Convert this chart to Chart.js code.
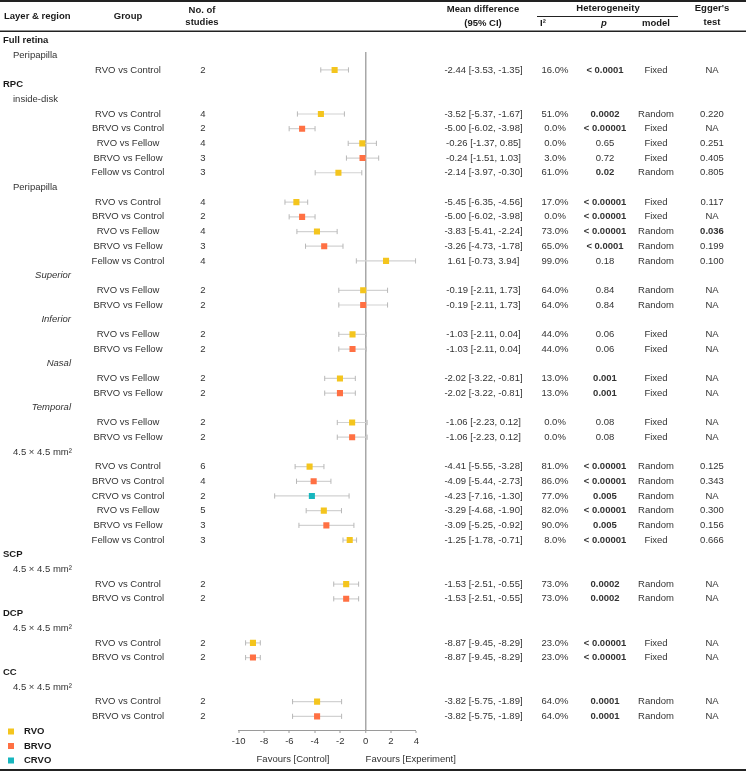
<!DOCTYPE html>
<html>
<head>
<meta charset="utf-8">
<script src="https://cdn.jsdelivr.net/npm/chart.js@4.4.1/dist/chart.umd.min.js"></script>
<style>
html,body{margin:0;padding:0;background:#fff;}
#wrap{position:relative;width:746px;height:771px;}
</style>
</head>
<body>
<div id="wrap"><canvas id="c"></canvas></div>
<script>
// ---- Row structure (L = layer, R = region, S = sub-region, D = data row) ----
const rowKind = ['L','R','D','L','R','D','D','D','D','D','R','D','D','D','D','D','S','D','D','S','D','D','S','D','D','S','D','D','R','D','D','D','D','D','D','L','R','D','D','L','R','D','D','L','R','D','D'];
const headingText = ['Full retina','Peripapilla','RPC','inside-disk','Peripapilla','Superior','Inferior','Nasal','Temporal','4.5 × 4.5 mm²','SCP','4.5 × 4.5 mm²','DCP','4.5 × 4.5 mm²','CC','4.5 × 4.5 mm²'];

// ---- Data rows ----
const groups = ['RVO vs Control',
 'RVO vs Control','BRVO vs Control','RVO vs Fellow','BRVO vs Fellow','Fellow vs Control',
 'RVO vs Control','BRVO vs Control','RVO vs Fellow','BRVO vs Fellow','Fellow vs Control',
 'RVO vs Fellow','BRVO vs Fellow',
 'RVO vs Fellow','BRVO vs Fellow',
 'RVO vs Fellow','BRVO vs Fellow',
 'RVO vs Fellow','BRVO vs Fellow',
 'RVO vs Control','BRVO vs Control','CRVO vs Control','RVO vs Fellow','BRVO vs Fellow','Fellow vs Control',
 'RVO vs Control','BRVO vs Control',
 'RVO vs Control','BRVO vs Control',
 'RVO vs Control','BRVO vs Control'];
const studies = [2, 4,2,4,3,3, 4,2,4,3,4, 2,2, 2,2, 2,2, 2,2, 6,4,2,5,3,3, 2,2, 2,2, 2,2];
const meanDiff = [-2.44, -3.52,-5.00,-0.26,-0.24,-2.14, -5.45,-5.00,-3.83,-3.26,1.61, -0.19,-0.19, -1.03,-1.03, -2.02,-2.02, -1.06,-1.06, -4.41,-4.09,-4.23,-3.29,-3.09,-1.25, -1.53,-1.53, -8.87,-8.87, -3.82,-3.82];
const ciLow = [-3.53, -5.37,-6.02,-1.37,-1.51,-3.97, -6.35,-6.02,-5.41,-4.73,-0.73, -2.11,-2.11, -2.11,-2.11, -3.22,-3.22, -2.23,-2.23, -5.55,-5.44,-7.16,-4.68,-5.25,-1.78, -2.51,-2.51, -9.45,-9.45, -5.75,-5.75];
const ciHigh = [-1.35, -1.67,-3.98,0.85,1.03,-0.30, -4.56,-3.98,-2.24,-1.78,3.94, 1.73,1.73, 0.04,0.04, -0.81,-0.81, 0.12,0.12, -3.28,-2.73,-1.30,-1.90,-0.92,-0.71, -0.55,-0.55, -8.29,-8.29, -1.89,-1.89];
const iSquared = [16.0, 51.0,0.0,0.0,3.0,61.0, 17.0,0.0,73.0,65.0,99.0, 64.0,64.0, 44.0,44.0, 13.0,13.0, 0.0,0.0, 81.0,86.0,77.0,82.0,90.0,8.0, 73.0,73.0, 23.0,23.0, 64.0,64.0];
const pText = ['< 0.0001', '0.0002','< 0.00001','0.65','0.72','0.02', '< 0.00001','< 0.00001','< 0.00001','< 0.0001','0.18', '0.84','0.84', '0.06','0.06', '0.001','0.001', '0.08','0.08', '< 0.00001','< 0.00001','0.005','< 0.00001','0.005','< 0.00001', '0.0002','0.0002', '< 0.00001','< 0.00001', '0.0001','0.0001'];
const models = ['Fixed', 'Random','Fixed','Fixed','Fixed','Random', 'Fixed','Fixed','Random','Random','Random', 'Random','Random', 'Fixed','Fixed', 'Fixed','Fixed', 'Fixed','Fixed', 'Random','Random','Random','Random','Random','Fixed', 'Random','Random', 'Fixed','Fixed', 'Random','Random'];
const egger = ['NA', '0.220','NA','0.251','0.405','0.805', '0.117','NA','0.036','0.199','0.100', 'NA','NA', 'NA','NA', 'NA','NA', 'NA','NA', '0.125','0.343','NA','0.300','0.156','0.666', 'NA','NA', 'NA','NA', 'NA','NA'];
const xTicks = [-10,-8,-6,-4,-2,0,2,4];
const legendNames = ['RVO','BRVO','CRVO'];
const colors = {RVO:'#F4C51E', BRVO:'#FF7043', CRVO:'#17B6BE'};

// ---- derive row indices ----
const dataRow = []; const headRow = [];
rowKind.forEach((k,i)=>{ if(k==='D') dataRow.push(i); else headRow.push(i); });
const typeOf = g => g.startsWith('BRVO') ? 'BRVO' : (g.startsWith('CRVO') ? 'CRVO' : 'RVO');

const ciData = [], capData = [];
const markerData = {RVO:[], BRVO:[], CRVO:[]};
groups.forEach((g,i)=>{
  const r = dataRow[i];
  ciData.push({x:ciLow[i],y:r},{x:ciHigh[i],y:r},{x:null,y:null});
  capData.push({x:ciLow[i],y:r},{x:ciHigh[i],y:r});
  markerData[typeOf(g)].push({x:meanDiff[i],y:r});
});

const FONT = '"Liberation Sans", Arial, sans-serif';
const FS = 9.5;
const TXT = '#333';

const tablePlugin = {
  id:'table',
  afterDraw(chart){
    const ctx = chart.ctx, ys = chart.scales.y, xs = chart.scales.x;
    ctx.save();
    ctx.textBaseline = 'middle';
    const t = (s,x,y,align,weight,style,color)=>{
      ctx.font = (style||'') + ' ' + (weight||'') + ' ' + FS + 'px ' + FONT;
      ctx.textAlign = align||'left';
      ctx.fillStyle = color||TXT;
      ctx.fillText(s,x,y);
    };
    // rules
    ctx.strokeStyle = '#222';
    ctx.lineWidth = 2; ctx.beginPath(); ctx.moveTo(0,1); ctx.lineTo(746,1); ctx.stroke();
    ctx.lineWidth = 1.5; ctx.beginPath(); ctx.moveTo(0,31.3); ctx.lineTo(746,31.3); ctx.stroke();
    ctx.lineWidth = 1; ctx.beginPath(); ctx.moveTo(537,16.5); ctx.lineTo(678,16.5); ctx.stroke();
    ctx.lineWidth = 2; ctx.beginPath(); ctx.moveTo(0,770); ctx.lineTo(746,770); ctx.stroke();
    // header
    const H = '#1a1a1a';
    t('Layer & region',4,16,'left','bold','',H);
    t('Group',128,16,'center','bold','',H);
    t('No. of',202,10,'center','bold','',H);
    t('studies',202,22.7,'center','bold','',H);
    t('Mean difference',483,9.5,'center','bold','',H);
    t('(95% CI)',483,23.3,'center','bold','',H);
    t('Heterogeneity',608,8.3,'center','bold','',H);
    t('I²',543,23.3,'center','bold','',H);
    t('p',604,23.8,'center','bold','italic',H);
    t('model',656,23.3,'center','bold','',H);
    t("Egger's",712,8.5,'center','bold','',H);
    t('test',712,22.7,'center','bold','',H);
    // headings
    headRow.forEach((r,j)=>{
      const y = ys.getPixelForValue(r), k = rowKind[r], s = headingText[j];
      if(k==='L') t(s,3,y,'left','bold','','#1a1a1a');
      else if(k==='R') t(s,13,y,'left');
      else t(s,71,y,'right','','italic');
    });
    // data rows
    groups.forEach((g,i)=>{
      const y = ys.getPixelForValue(dataRow[i]);
      t(g,128,y,'center');
      t(String(studies[i]),203,y,'center');
      t(meanDiff[i].toFixed(2)+' ['+ciLow[i].toFixed(2)+', '+ciHigh[i].toFixed(2)+']',483.5,y,'center');
      t(iSquared[i].toFixed(1)+'%',555,y,'center');
      const pb = pText[i].startsWith('<') || parseFloat(pText[i]) < 0.05;
      t(pText[i],605,y,'center',pb?'bold':'');
      t(models[i],656,y,'center');
      const eb = !isNaN(parseFloat(egger[i])) && parseFloat(egger[i]) < 0.05;
      t(egger[i],712,y,'center',eb?'bold':'');
    });
    // favours labels
    t('Favours [Control]',293,759,'center');
    t('Favours [Experiment]',xs.getPixelForValue(0),759,'left');
    // legend
    legendNames.forEach((n,i)=>{
      const y = 731.5 + i*14.5;
      ctx.fillStyle = colors[n];
      ctx.fillRect(8,y-3,6,6);
      t(n,24,y,'left','bold','','#1a1a1a');
    });
    ctx.restore();
  }
};

new Chart(document.getElementById('c'), {
  type:'scatter',
  data:{ datasets:[
    {label:'RVO', data:markerData.RVO, pointStyle:'rect', pointRadius:4.3, backgroundColor:colors.RVO, borderWidth:0, order:0},
    {label:'BRVO', data:markerData.BRVO, pointStyle:'rect', pointRadius:4.3, backgroundColor:colors.BRVO, borderWidth:0, order:0},
    {label:'CRVO', data:markerData.CRVO, pointStyle:'rect', pointRadius:4.3, backgroundColor:colors.CRVO, borderWidth:0, order:0},
    {label:'caps', data:capData, pointStyle:'line', rotation:90, pointRadius:2.6, borderColor:'#b8b8b8', borderWidth:1, order:1},
    {label:'ci', type:'line', data:ciData, showLine:true, spanGaps:false, pointRadius:0, borderColor:'#d2d2d2', borderWidth:1.2, order:2}
  ]},
  options:{
    responsive:true, maintainAspectRatio:false, animation:false, events:[],
    devicePixelRatio:1,
    layout:{padding:{left:238.6, right:329.6, top:52, bottom:0}},
    plugins:{legend:{display:false}, tooltip:{enabled:false}},
    scales:{
      x:{type:'linear', position:'bottom', min:-10, max:4,
        afterBuildTicks: s => { s.ticks = xTicks.map(v=>({value:v})); },
        afterFit: s => { s.height = 41; },
        ticks:{font:{family:FONT,size:FS}, color:TXT, padding:3, maxRotation:0},
        grid:{drawOnChartArea:true, color: c => (c.tick && c.tick.value===0) ? '#a8a8a8' : 'rgba(0,0,0,0)', lineWidth: c => (c.tick && c.tick.value===0) ? 1.5 : 0, tickColor:'#9a9a9a', tickLength:3, tickWidth:1},
        border:{display:true, color:'#9a9a9a', width:1}
      },
      y:{type:'linear', display:false, reverse:true, min:0.78, max:46.93}
    }
  },
  plugins:[tablePlugin]
});
</script>
</body>
</html>
